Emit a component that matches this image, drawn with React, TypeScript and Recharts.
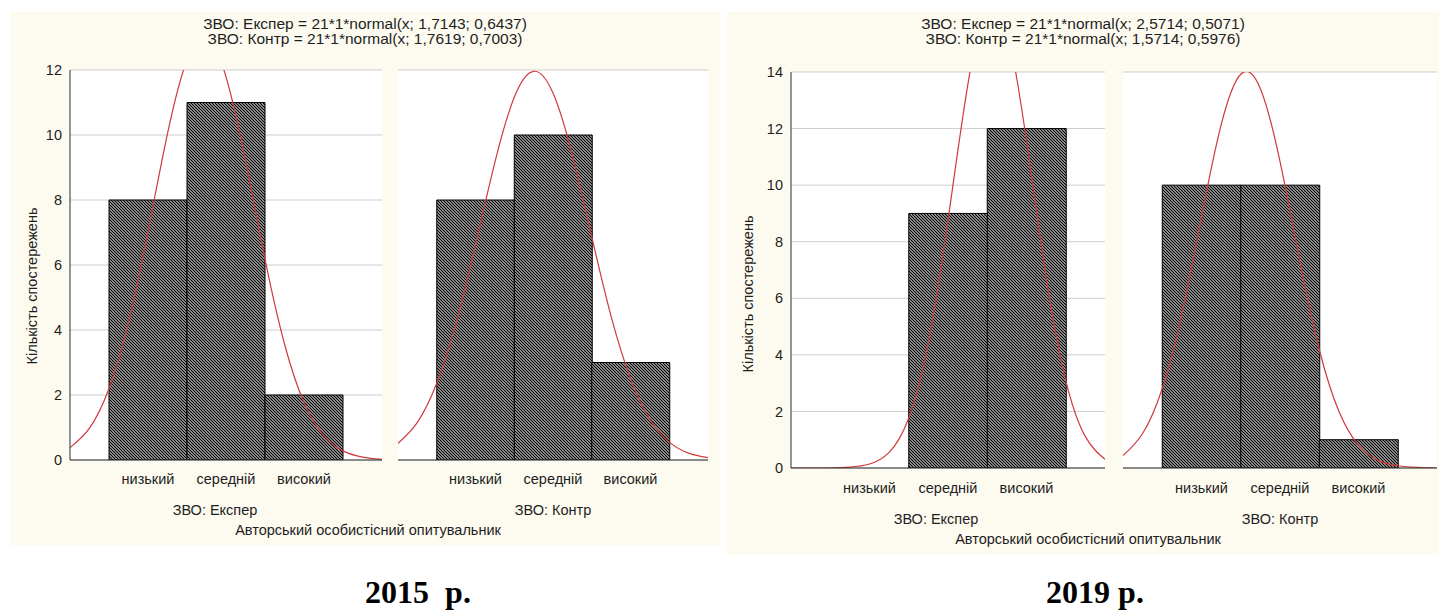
import React from 'react';
import { ComposedChart, Bar, Line, XAxis, YAxis, CartesianGrid } from 'recharts';

// ---------- data ----------
const categories = ['низький', 'середній', 'високий'];
const categoryPositions = [1, 2, 3];

const exp2015 = [8, 11, 2];
const ctrl2015 = [8, 10, 3];
const exp2019 = [0, 9, 12];
const ctrl2019 = [10, 10, 1];

// fitted normal curves
const curveX = [0, 0.25, 0.5, 0.75, 1, 1.25, 1.5, 1.75, 2, 2.25, 2.5, 2.75, 3, 3.25, 3.5, 3.75, 4];
const expCurve2015 = [0.38, 0.98, 2.2, 4.24, 7.03, 10.04, 12.31, 13.0, 11.79, 9.21, 6.18, 3.57, 1.77, 0.76, 0.28, 0.09, 0.02];
const ctrlCurve2015 = [0.51, 1.16, 2.36, 4.21, 6.62, 9.16, 11.16, 11.96, 11.29, 9.38, 6.87, 4.42, 2.51, 1.25, 0.55, 0.21, 0.07];
const expCurve2019 = [0, 0, 0, 0.03, 0.14, 0.55, 1.77, 4.45, 8.76, 13.51, 16.36, 15.53, 11.56, 6.75, 3.09, 1.11, 0.31];
const ctrlCurve2019 = [0.44, 1.22, 2.81, 5.45, 8.88, 12.13, 13.92, 13.41, 10.84, 7.36, 4.19, 2.01, 0.81, 0.27, 0.08, 0.02, 0.0];

const yTicks2015 = [0, 2, 4, 6, 8, 10, 12];
const yTicks2019 = [0, 2, 4, 6, 8, 10, 12, 14];

const titles2015 = ['ЗВО: Експер = 21*1*normal(x; 1,7143; 0,6437)', 'ЗВО: Контр = 21*1*normal(x; 1,7619; 0,7003)'];
const titles2019 = ['ЗВО: Експер = 21*1*normal(x; 2,5714; 0,5071)', 'ЗВО: Контр = 21*1*normal(x; 1,5714; 0,5976)'];
const groupLabels = ['ЗВО: Експер', 'ЗВО: Контр'];
const xTitle = 'Авторський особистісний опитувальник';
const yTitle = 'Кількість спостережень';
const yearLabels = ['2015  р.', '2019 р.'];

// ---------- styles ----------
const FONT = '"Liberation Sans", Arial, sans-serif';
const SERIF = '"Liberation Serif", "Times New Roman", serif';
const BEIGE = '#fdfaf0';
const FRAME = '#2e2e2e';
const GRID = '#cdcdcd';
const RED = '#d03a3a';
const TXT = '#1e1e1e';
const FS = 14.5;

type SubProps = {
  counts: number[];
  curve: number[];
  yMax: number;
  yTicks: number[];
  showYLabels: boolean;
  left: number;
  top: number;
  width: number;
  height: number;
  marginLeft: number;
  marginRight: number;
  yAxisWidth: number;
  catMargin: number;
};

function SubChart(p: SubProps) {
  const barData = categoryPositions.map((pos, i) => ({ pos, name: categories[i], count: p.counts[i] }));
  const curveData = curveX.map((x, i) => ({ x, y: p.curve[i] }));
  return (
    <div style={{ position: 'absolute', left: p.left, top: p.top }}>
      <ComposedChart
        width={p.width}
        height={p.height}
        data={barData}
        barCategoryGap={0}
        barGap={0}
        margin={{ top: 10, right: p.marginRight, bottom: 0, left: p.marginLeft }}
      >
        <CartesianGrid vertical={false} stroke={GRID} fill="#ffffff" />
        <XAxis
          xAxisId={0}
          dataKey="pos"
          type="number"
          domain={[0, 4]}
          ticks={categoryPositions}
          allowDataOverflow
          tickFormatter={(v: number) => categories[categoryPositions.indexOf(v)] ?? ''}
          height={40}
          tickLine={false}
          tickSize={0}
          tickMargin={p.catMargin}
          axisLine={{ stroke: FRAME }}
          tick={{ fill: TXT, fontSize: FS, fontFamily: FONT }}
        />
        <XAxis
          xAxisId="top"
          dataKey="x"
          type="number"
          orientation="top"
          domain={[0, 4]}
          ticks={categoryPositions}
          allowDataOverflow
          height={0}
          mirror
          tick={false}
          tickSize={4}
          tickLine={{ stroke: FRAME }}
          axisLine={{ stroke: FRAME }}
        />
        <YAxis
          yAxisId={0}
          type="number"
          domain={[0, p.yMax]}
          ticks={p.yTicks}
          allowDataOverflow
          width={p.yAxisWidth}
          tick={p.showYLabels ? { fill: TXT, fontSize: FS, fontFamily: FONT } : false}
          tickLine={false}
          tickSize={0}
          tickMargin={8}
          axisLine={{ stroke: FRAME }}
        />
        <YAxis
          yAxisId="right"
          orientation="right"
          type="number"
          domain={[0, p.yMax]}
          ticks={p.yTicks}
          allowDataOverflow
          width={0}
          tick={false}
          tickSize={3}
          tickLine={{ stroke: FRAME }}
          axisLine={{ stroke: FRAME }}
        />
        <Bar
          dataKey="count"
          xAxisId={0}
          yAxisId={0}
          fill="url(#hatch)"
          stroke="#000"
          strokeWidth={1}
          isAnimationActive={false}
        />
        <Line
          data={curveData}
          dataKey="y"
          xAxisId="top"
          yAxisId="right"
          type="natural"
          stroke={RED}
          strokeWidth={1.2}
          dot={false}
          activeDot={false}
          isAnimationActive={false}
        />
      </ComposedChart>
    </div>
  );
}

function Txt(props: { x: number; y: number; children: React.ReactNode; size?: number; rotate?: number; bold?: boolean; family?: string }) {
  const { x, y, children, size = FS, rotate, bold, family } = props;
  return (
    <div
      style={{
        position: 'absolute',
        left: x,
        top: y,
        transform: `translate(-50%, -50%)${rotate ? ` rotate(${rotate}deg)` : ''}`,
        fontSize: size,
        lineHeight: 1,
        whiteSpace: 'pre',
        color: bold ? '#000' : TXT,
        fontWeight: bold ? 700 : 400,
        fontFamily: family ?? FONT,
      }}
    >
      {children}
    </div>
  );
}

export default function App() {
  return (
    <div style={{ position: 'absolute', left: 0, top: 0, width: 1439, height: 611, background: '#fff', overflow: 'hidden', fontFamily: FONT }}>
      <svg width={0} height={0} style={{ position: 'absolute' }}>
        <defs>
          <pattern id="hatch" patternUnits="userSpaceOnUse" width={3} height={3}>
            <rect width={3} height={3} fill="#fff" />
            <path d="M-1,-1 L4,4 M-1,2 L1,4 M2,-1 L4,1" stroke="#000" strokeWidth={1.35} />
          </pattern>
        </defs>
      </svg>

      {/* ---------- 2015 ---------- */}
      <div style={{ position: 'absolute', left: 10, top: 12, width: 710, height: 533, background: BEIGE }} />
      <Txt x={365} y={24} size={15.5}>{titles2015[0]}</Txt>
      <Txt x={365} y={39} size={15.5}>{titles2015[1]}</Txt>
      <Txt x={32} y={286} rotate={-90}>{yTitle}</Txt>
      <SubChart counts={exp2015} curve={expCurve2015} yMax={12} yTicks={yTicks2015} showYLabels
        left={10} top={60} width={380} height={440} marginLeft={0} marginRight={8} yAxisWidth={60} catMargin={14} />
      <SubChart counts={ctrl2015} curve={ctrlCurve2015} yMax={12} yTicks={yTicks2015} showYLabels={false}
        left={390} top={60} width={330} height={440} marginLeft={8} marginRight={12} yAxisWidth={0} catMargin={14} />
      <Txt x={215} y={510}>{groupLabels[0]}</Txt>
      <Txt x={553} y={510}>{groupLabels[1]}</Txt>
      <Txt x={368} y={530}>{xTitle}</Txt>
      <Txt x={418} y={592} size={32} bold family={SERIF}>{yearLabels[0]}</Txt>

      {/* ---------- 2019 ---------- */}
      <div style={{ position: 'absolute', left: 727, top: 12, width: 712, height: 543, background: BEIGE }} />
      <Txt x={1083} y={24} size={15.5}>{titles2019[0]}</Txt>
      <Txt x={1083} y={39} size={15.5}>{titles2019[1]}</Txt>
      <Txt x={748} y={294} rotate={-90}>{yTitle}</Txt>
      <SubChart counts={exp2019} curve={expCurve2019} yMax={14} yTicks={yTicks2019} showYLabels
        left={727} top={62} width={386} height={446} marginLeft={0} marginRight={8} yAxisWidth={64} catMargin={15} />
      <SubChart counts={ctrl2019} curve={ctrlCurve2019} yMax={14} yTicks={yTicks2019} showYLabels={false}
        left={1113} top={62} width={326} height={446} marginLeft={10} marginRight={2} yAxisWidth={0} catMargin={15} />
      <Txt x={936} y={519}>{groupLabels[0]}</Txt>
      <Txt x={1280} y={519}>{groupLabels[1]}</Txt>
      <Txt x={1088} y={539}>{xTitle}</Txt>
      <Txt x={1095} y={592} size={32} bold family={SERIF}>{yearLabels[1]}</Txt>
    </div>
  );
}
